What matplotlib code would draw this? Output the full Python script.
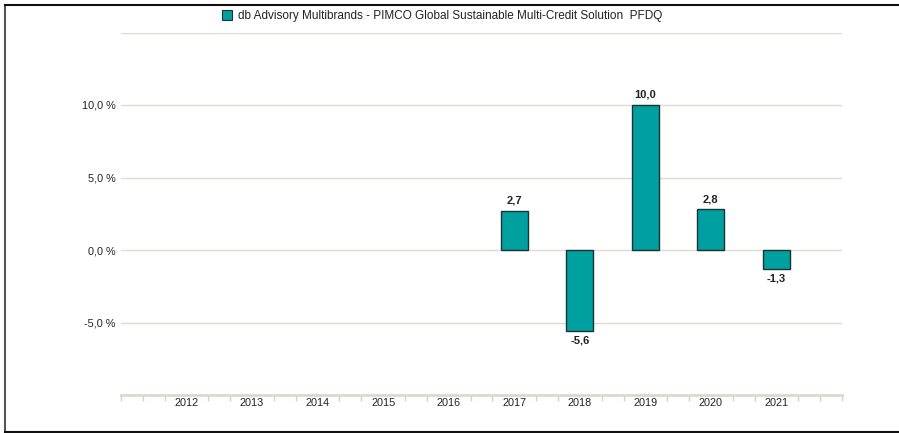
import matplotlib
matplotlib.use("Agg")
import matplotlib.pyplot as plt
from matplotlib.patches import Rectangle
from matplotlib.lines import Line2D
import numpy as np

plt.rcParams['font.family'] = ['Liberation Sans', 'DejaVu Sans']

years = ["2012", "2013", "2014", "2015", "2016", "2017", "2018", "2019", "2020", "2021"]
values = [None, None, None, None, None, 2.7, -5.6, 10.0, 2.8, -1.3]
series_name = "db Advisory Multibrands - PIMCO Global Sustainable Multi-Credit Solution  PFDQ"
yticks = [-5, 0, 5, 10]
ytick_labels = ["-5,0 %", "0,0 %", "5,0 %", "10,0 %"]
gridlines = [-5, 0, 5, 10, 15]

W, H = 899, 433
fig = plt.figure(figsize=(W / 100, H / 100), dpi=100)
fig.patch.set_facecolor("white")

ax = fig.add_axes([121 / W, 1 - 395 / H, (842 - 121) / W, (395 - 32.5) / H])
ax.set_xlim(-1, 10)
ax.set_ylim(-10, 15)

grid_c = "#dedbd3"
for g in gridlines:
    ax.axhline(g, color=grid_c, lw=1.0, zorder=0)

bar_c = "#00a0a0"
x = np.arange(len(years))
for xi, v in zip(x, values):
    if v is None:
        continue
    ax.bar(xi, v, width=0.41, color=bar_c, edgecolor="#1c3333", linewidth=1.0, zorder=3)
    lbl = f"{v:.1f}".replace(".", ",")
    if v >= 0:
        ax.text(xi, v + 0.35, lbl, ha="center", va="bottom", fontsize=8, fontweight="bold", color="#222222")
    else:
        ax.text(xi, v - 0.3, lbl, ha="center", va="top", fontsize=8, fontweight="bold", color="#222222")

for s in ["top", "right", "left"]:
    ax.spines[s].set_visible(False)
ax.spines["bottom"].set_color("#dcd8cc")
ax.spines["bottom"].set_linewidth(2.0)

ax.set_yticks(yticks)
ax.set_yticklabels(ytick_labels, fontsize=7.8, color="#222222")
ax.tick_params(axis="y", length=0, pad=4)

ax.set_xticks(x)
ax.set_xticklabels(years, fontsize=7.8, color="#222222")
ax.tick_params(axis="x", length=0, pad=2)
minor = [(-1 + k / 3) for k in range(34) if k % 3 != 0 or k == 0 or k == 33]
ax.set_xticks(minor, minor=True)
ax.tick_params(axis="x", which="minor", length=4, color="#d4d0c4", width=1.0, direction="out")

# legend
fig.patches.append(Rectangle((222 / W, 1 - 20 / H), 10 / W, 10 / H, transform=fig.transFigure,
                             facecolor=bar_c, edgecolor="#1c3333", linewidth=0.8))
fig.text(238 / W, 1 - 15.5 / H, series_name, fontsize=8.5, va="center", ha="left", color="#222222")

# frame
fig.lines.append(Line2D([5 / W, 5 / W], [1 - 4.5 / H, 1 - 431.5 / H], transform=fig.transFigure, color="#555555", lw=1.5))
fig.lines.append(Line2D([5 / W, 1], [1 - 4.5 / H, 1 - 4.5 / H], transform=fig.transFigure, color="#111111", lw=1.5))
fig.lines.append(Line2D([5 / W, 1], [1 - 431.5 / H, 1 - 431.5 / H], transform=fig.transFigure, color="#111111", lw=1.5))

fig.savefig("out.png", dpi=100, facecolor="white")
